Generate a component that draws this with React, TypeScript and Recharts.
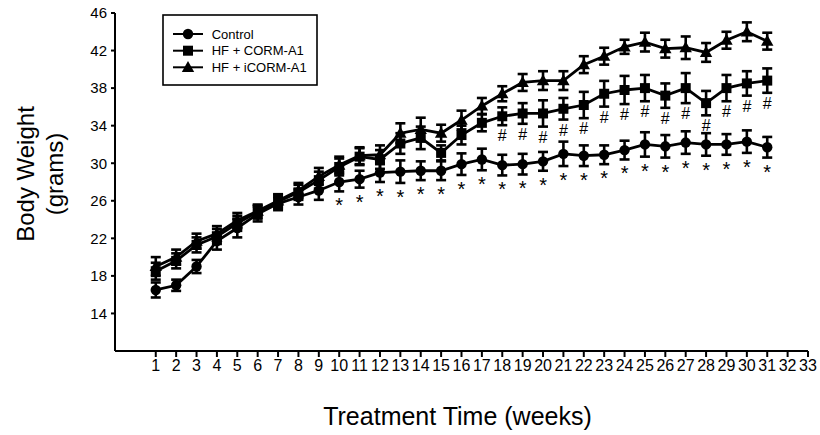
import React from 'react';
import { LineChart, Line, XAxis, YAxis, ErrorBar, LabelList } from 'recharts';

const weeks = [1,2,3,4,5,6,7,8,9,10,11,12,13,14,15,16,17,18,19,20,21,22,23,24,25,26,27,28,29,30,31];
const controlMean = [16.5,17.0,19.0,21.7,23.1,24.6,25.7,26.4,27.1,28.0,28.3,29.0,29.1,29.2,29.2,29.9,30.4,29.8,29.9,30.2,31.0,30.8,30.9,31.4,32.0,31.8,32.2,32.0,32.0,32.3,31.7];
const controlErr = [0.8,0.6,0.7,0.9,1.0,0.8,0.7,0.8,1.0,1.0,0.9,1.0,1.2,1.0,1.0,1.15,1.15,1.1,1.1,1.0,1.3,1.1,1.0,1.0,1.3,1.2,1.2,1.2,1.1,1.2,1.1];
const cormMean = [18.5,19.6,21.3,22.2,23.6,24.8,25.9,26.9,28.2,29.6,30.7,30.4,32.1,32.7,31.1,33.0,34.3,35.0,35.3,35.3,35.8,36.2,37.4,37.8,38.0,37.2,38.0,36.4,38.0,38.5,38.8];
const cormErr = [0.9,0.8,0.8,0.8,0.8,0.7,0.7,0.8,0.9,0.9,0.9,1.0,1.1,1.2,0.8,1.0,0.9,0.95,1.1,1.4,1.15,1.4,1.37,1.5,1.4,1.3,1.6,1.3,1.4,1.3,1.3];
const icormMean = [19.0,20.0,21.7,22.5,23.9,24.9,26.0,27.1,28.6,29.8,30.8,30.9,33.2,33.6,33.2,34.6,36.1,37.4,38.6,38.8,38.8,40.5,41.4,42.4,42.9,42.2,42.3,41.8,43.1,44.0,43.0];
const icormErr = [1.0,0.8,0.8,0.8,0.8,0.7,0.7,0.8,0.9,0.9,0.9,1.0,1.05,1.25,0.9,1.0,0.85,0.8,0.9,1.0,1.0,0.9,0.9,0.75,1.0,0.95,1.2,1.0,0.9,1.0,0.9];
const controlSig = ['','','','','','','','','','*','*','*','*','*','*','*','*','*','*','*','*','*','*','*','*','*','*','*','*','*','*'];
const cormSig = ['','','','','','','','','','','','','','','','','','#','#','#','#','#','#','#','#','#','#','#','#','#','#'];
const xTicks = [1,2,3,4,5,6,7,8,9,10,11,12,13,14,15,16,17,18,19,20,21,22,23,24,25,26,27,28,29,30,31,32,33];
const yTicks = [14,18,22,26,30,34,38,42,46];
const seriesNames = ['Control', 'HF + CORM-A1', 'HF + iCORM-A1'];

const rows = weeks.map((w, i) => ({
  week: w,
  control: controlMean[i],
  controlErr: controlErr[i],
  corm: cormMean[i],
  cormErr: cormErr[i],
  icorm: icormMean[i],
  icormErr: icormErr[i],
}));

const FONT = '"Liberation Sans", Arial, sans-serif';
const W = 820;
const H = 435;
const MARGIN = { top: 13, right: 12, bottom: 54, left: 0 };
const X_AXIS_H = 30;
const Y_MIN = 10;
const Y_MAX = 46;
const PLOT_H = H - MARGIN.top - MARGIN.bottom - X_AXIS_H;
const PX = PLOT_H / (Y_MAX - Y_MIN);

function Marker({ kind, cx, cy }: { kind: string; cx: number; cy: number }) {
  if (kind === 'circle') return <circle cx={cx} cy={cy} r={5.2} fill="#000" />;
  if (kind === 'square') return <rect x={cx - 5} y={cy - 5} width={10} height={10} fill="#000" />;
  return <polygon points={`${cx},${cy - 6.4} ${cx - 6.2},${cy + 4.6} ${cx + 6.2},${cy + 4.6}`} fill="#000" />;
}

const makeDot = (kind: string) => (p: any) => {
  if (p.cx == null || p.cy == null) return <g key={`e${kind}${p.index}`} />;
  return (
    <g key={`d${kind}${p.index}`}>
      <Marker kind={kind} cx={p.cx} cy={p.cy} />
    </g>
  );
};

const makeSig = (sig: string[], err: number[], gap: number, size: number) => (p: any) => {
  const i = p.index;
  const s = sig[i];
  if (!s) return null;
  const yy = p.y + err[i] * PX + gap;
  return (
    <text key={`s${s}${i}`} x={p.x} y={yy} textAnchor="middle" fontFamily={FONT} fontSize={size} fill="#000">
      {s}
    </text>
  );
};

function Legend() {
  const rowsY = [34, 50.7, 67.3];
  const kinds = ['circle', 'square', 'triangle'];
  return (
    <g>
      <rect x={163} y={15} width={154} height={70} fill="#fff" stroke="#000" strokeWidth={1.6} />
      {seriesNames.map((n, i) => (
        <g key={n}>
          <line x1={173} x2={203} y1={rowsY[i]} y2={rowsY[i]} stroke="#000" strokeWidth={2} />
          <Marker kind={kinds[i]} cx={188} cy={rowsY[i]} />
          <text x={211.7} y={rowsY[i] + 4.6} fontFamily={FONT} fontSize={13} fill="#000">{n}</text>
        </g>
      ))}
    </g>
  );
}

export default function App() {
  const axisStyle = { stroke: '#000', strokeWidth: 2 };
  return (
    <div style={{ position: 'fixed', left: 0, top: 0, width: W, height: H, background: '#fff' }}>
      <LineChart width={W} height={H} data={rows} margin={MARGIN}>
        <XAxis
          dataKey="week"
          type="number"
          domain={[-1, 33]}
          ticks={xTicks}
          interval={0}
          height={X_AXIS_H}
          tickSize={6}
          tickMargin={3}
          axisLine={axisStyle}
          tickLine={axisStyle}
          tick={{ fill: '#000', fontSize: 16, fontFamily: FONT }}
          allowDataOverflow
        />
        <YAxis
          domain={[Y_MIN, Y_MAX]}
          ticks={yTicks}
          width={115}
          tickSize={4}
          tickMargin={4}
          axisLine={axisStyle}
          tickLine={axisStyle}
          tick={{ fill: '#000', fontSize: 15, fontFamily: FONT }}
          allowDataOverflow
        />
        <Line dataKey="control" type="linear" stroke="#000" strokeWidth={2.8} dot={makeDot('circle')} isAnimationActive={false}>
          <ErrorBar dataKey="controlErr" width={5} stroke="#000" strokeWidth={2.6} direction="y" />
          <LabelList dataKey="control" content={makeSig(controlSig, controlErr, 21, 20)} />
        </Line>
        <Line dataKey="corm" type="linear" stroke="#000" strokeWidth={2.8} dot={makeDot('square')} isAnimationActive={false}>
          <ErrorBar dataKey="cormErr" width={5} stroke="#000" strokeWidth={2.6} direction="y" />
          <LabelList dataKey="corm" content={makeSig(cormSig, cormErr, 16, 16)} />
        </Line>
        <Line dataKey="icorm" type="linear" stroke="#000" strokeWidth={2.8} dot={makeDot('triangle')} isAnimationActive={false}>
          <ErrorBar dataKey="icormErr" width={5} stroke="#000" strokeWidth={2.6} direction="y" />
        </Line>
      </LineChart>
      <svg width={W} height={H} style={{ position: 'absolute', left: 0, top: 0, pointerEvents: 'none' }}>
        <Legend />
        <text x={457.5} y={425} textAnchor="middle" fontFamily={FONT} fontSize={25} fill="#000">Treatment Time (weeks)</text>
        <text x={25} y={174} transform="rotate(-90 25 174)" textAnchor="middle" dominantBaseline="central" fontFamily={FONT} fontSize={24} fill="#000">Body Weight</text>
        <text x={54} y={174} transform="rotate(-90 54 174)" textAnchor="middle" dominantBaseline="central" fontFamily={FONT} fontSize={24} fill="#000">(grams)</text>
      </svg>
    </div>
  );
}
